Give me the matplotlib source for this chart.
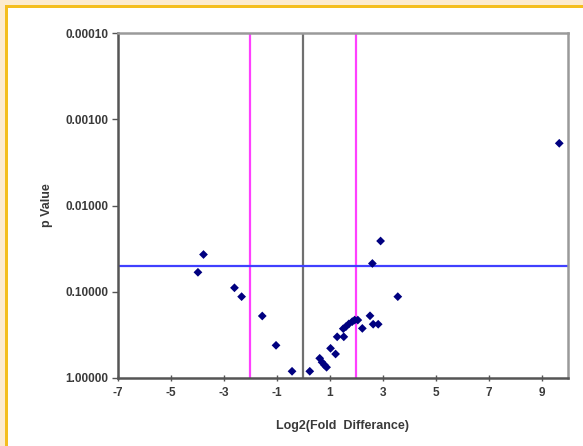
import matplotlib
matplotlib.use("Agg")
import matplotlib.pyplot as plt
from matplotlib.patches import Rectangle
from matplotlib.ticker import FixedLocator, FormatStrFormatter

# log2 fold difference and p values
log2_fold = [9.67, -3.77, -3.98, -2.60, -2.33, -1.55, -1.03,
             2.92, 2.61, 3.57, 2.52, 2.06, 1.94, 1.85, 1.72, 1.61,
             1.51, 2.23, 2.64, 2.83, 1.53, 1.28, 1.03, 1.22,
             0.62, 0.71, 0.80, 0.88, 0.245, -0.425]
p_values = [0.0019, 0.037, 0.0595, 0.090, 0.114, 0.191, 0.418,
            0.0258, 0.047, 0.114, 0.19, 0.213, 0.213, 0.222, 0.236, 0.254,
            0.268, 0.266, 0.238, 0.238, 0.333, 0.333, 0.453, 0.527,
            0.591, 0.657, 0.707, 0.751, 0.836, 0.836]

x_ticks = [-7, -5, -3, -1, 1, 3, 5, 7, 9]
y_ticks = [0.0001, 0.001, 0.01, 0.1, 1.0]
fold_cutoffs = [-2, 2]
p_cutoff = 0.05

plt.rcParams['font.family'] = ['Liberation Sans', 'DejaVu Sans']
plt.rcParams['axes.unicode_minus'] = False

fig = plt.figure(figsize=(5.83, 4.46), dpi=100)
fig.patch.set_facecolor("white")

# page frame: beige margin and gold rule on top and left
W, H = 583.0, 446.0
fig.patches.append(Rectangle((0, 0), 5 / W, 1, transform=fig.transFigure,
                             facecolor="#fcebcf", edgecolor="none", zorder=0))
fig.patches.append(Rectangle((0, 1 - 5 / H), 1, 5 / H, transform=fig.transFigure,
                             facecolor="#fcebcf", edgecolor="none", zorder=0))
fig.patches.append(Rectangle((5 / W, 0), 3 / W, 1 - 5 / H, transform=fig.transFigure,
                             facecolor="#f4be1f", edgecolor="none", zorder=0))
fig.patches.append(Rectangle((5 / W, 1 - 8 / H), 1, 3 / H, transform=fig.transFigure,
                             facecolor="#f4be1f", edgecolor="none", zorder=0))

ax = fig.add_axes([118 / W, 1 - 378 / H, 450 / W, 345 / H])

ax.axvline(0, color="#707070", lw=1.6, zorder=1)
for c in fold_cutoffs:
    ax.axvline(c, color="#ff40ff", lw=1.6, zorder=1)
ax.axhline(p_cutoff, color="#4040ff", lw=1.6, zorder=1)

ax.scatter(log2_fold, p_values, marker="D", s=20, color="#000080",
           edgecolors="none", zorder=3, clip_on=False)

ax.set_yscale("log")
ax.set_ylim(1.0, 0.0001)
ax.set_xlim(-7, 10)

ax.yaxis.set_major_locator(FixedLocator(y_ticks))
ax.yaxis.set_minor_locator(FixedLocator([]))
ax.yaxis.set_major_formatter(FormatStrFormatter("%.5f"))
ax.set_xticks(x_ticks)

ax.tick_params(axis="y", direction="out", length=4, width=1, color="#555555",
               labelsize=8.5, labelcolor="#3a3a3a", pad=3)
ax.tick_params(axis="x", direction="inout", length=5, width=1, color="#555555",
               labelsize=8.5, labelcolor="#3a3a3a", pad=4)
for lbl in ax.get_xticklabels() + ax.get_yticklabels():
    lbl.set_fontweight("bold")

for side in ["left", "bottom"]:
    ax.spines[side].set_color("#555555")
    ax.spines[side].set_linewidth(1.8)
for side in ["top", "right"]:
    ax.spines[side].set_color("#9a9a9a")
    ax.spines[side].set_linewidth(1.8)

ax.set_ylabel("p Value", fontsize=9, fontweight="bold", color="#3a3a3a", labelpad=9)
ax.set_xlabel("Log2(Fold  Differance)", fontsize=9, fontweight="bold",
              color="#3a3a3a", labelpad=15)

fig.savefig("out.png", dpi=100)
